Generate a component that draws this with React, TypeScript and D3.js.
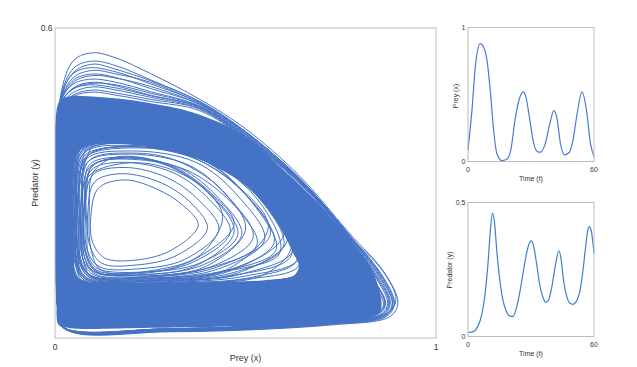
import { useEffect, useRef } from 'react'
import * as d3 from 'd3'

// Time series
const preyT = [0, 1.9, 3.5, 5.8, 7.4, 9, 10.6, 12.2, 13.7, 16.1, 18.5, 20.4, 22.4, 24.5, 26.4, 27.6, 29.2, 31.1, 33, 34.6, 36.6, 39, 40.9, 42.5, 44, 46.1, 48.2, 50, 52, 54.3, 56.4, 58.3, 60]
const preyX = [0.087, 0.385, 0.71, 0.88, 0.855, 0.76, 0.53, 0.235, 0.062, 0.007, 0.017, 0.087, 0.31, 0.47, 0.52, 0.48, 0.335, 0.149, 0.074, 0.07, 0.124, 0.285, 0.38, 0.31, 0.136, 0.05, 0.067, 0.16, 0.36, 0.52, 0.385, 0.136, 0.037]

const predT = [0, 2.5, 4.5, 6.5, 8, 9.5, 10.7, 11.7, 12.7, 13.7, 15, 16.5, 18.3, 20, 21.5, 23, 24.8, 26.5, 28, 29.3, 30.3, 31.3, 32.7, 34, 35.5, 37, 38.3, 39.8, 41.5, 43.3, 44.3, 45.5, 47, 48.5, 50, 51.5, 53, 54.5, 55.8, 57, 57.8, 58.8, 60]
const predY = [0.015, 0.018, 0.035, 0.08, 0.15, 0.27, 0.4, 0.46, 0.42, 0.32, 0.22, 0.14, 0.093, 0.076, 0.075, 0.105, 0.17, 0.25, 0.315, 0.35, 0.357, 0.335, 0.27, 0.2, 0.15, 0.128, 0.135, 0.18, 0.26, 0.32, 0.29, 0.21, 0.15, 0.125, 0.12, 0.13, 0.16, 0.23, 0.32, 0.395, 0.41, 0.39, 0.31]

// Phase plane: the densely overplotted band (outer edge, inner edge of the hole)
const denseOuter = [[0.004, 0.44], [0.004, 0.06], [0.01, 0.025], [0.04, 0.019], [0.2, 0.019], [0.5, 0.023], [0.72, 0.03], [0.82, 0.04], [0.852, 0.05], [0.857, 0.065], [0.852, 0.09], [0.83, 0.135], [0.79, 0.175], [0.748, 0.213], [0.70, 0.253], [0.64, 0.298], [0.58, 0.338], [0.525, 0.375], [0.46, 0.407], [0.394, 0.428], [0.33, 0.443], [0.262, 0.453], [0.17, 0.463], [0.087, 0.468], [0.04, 0.468], [0.014, 0.46]]
const denseInner = [[0.05, 0.33], [0.05, 0.16], [0.055, 0.122], [0.08, 0.11], [0.2, 0.107], [0.4, 0.108], [0.55, 0.112], [0.625, 0.12], [0.64, 0.138], [0.625, 0.165], [0.59, 0.215], [0.55, 0.258], [0.505, 0.292], [0.45, 0.32], [0.381, 0.345], [0.3, 0.362], [0.2, 0.374], [0.12, 0.376], [0.08, 0.37], [0.058, 0.355]]

// Individual cycles visible inside the hole
const holeLoops = [
  [[0.094, 0.235], [0.099, 0.185], [0.13, 0.155], [0.20, 0.150], [0.30, 0.168], [0.376, 0.218], [0.337, 0.256], [0.265, 0.289], [0.182, 0.306], [0.114, 0.29]],
  [[0.086, 0.24], [0.091, 0.18], [0.122, 0.145], [0.21, 0.141], [0.32, 0.16], [0.40, 0.212], [0.356, 0.262], [0.28, 0.30], [0.175, 0.318], [0.104, 0.302]],
  [[0.080, 0.23], [0.085, 0.17], [0.116, 0.138], [0.22, 0.134], [0.34, 0.152], [0.43, 0.21], [0.38, 0.265], [0.295, 0.31], [0.185, 0.330], [0.098, 0.315]],
  [[0.076, 0.25], [0.08, 0.165], [0.11, 0.131], [0.23, 0.127], [0.36, 0.146], [0.46, 0.205], [0.405, 0.268], [0.31, 0.32], [0.17, 0.340], [0.094, 0.324]],
  [[0.072, 0.235], [0.076, 0.16], [0.106, 0.127], [0.24, 0.123], [0.39, 0.142], [0.49, 0.2], [0.43, 0.27], [0.33, 0.328], [0.19, 0.348], [0.09, 0.33]],
  [[0.068, 0.26], [0.072, 0.155], [0.10, 0.123], [0.25, 0.119], [0.41, 0.138], [0.52, 0.195], [0.455, 0.272], [0.35, 0.335], [0.18, 0.356], [0.085, 0.34]],
  [[0.064, 0.24], [0.068, 0.152], [0.096, 0.12], [0.26, 0.116], [0.43, 0.134], [0.55, 0.19], [0.48, 0.275], [0.37, 0.34], [0.2, 0.362], [0.08, 0.345]],
  [[0.060, 0.27], [0.064, 0.148], [0.092, 0.117], [0.27, 0.113], [0.45, 0.13], [0.575, 0.185], [0.50, 0.278], [0.385, 0.347], [0.19, 0.37], [0.076, 0.352]],
  [[0.056, 0.25], [0.06, 0.145], [0.088, 0.114], [0.28, 0.111], [0.47, 0.127], [0.60, 0.178], [0.525, 0.28], [0.40, 0.354], [0.2, 0.377], [0.072, 0.36]],
  [[0.052, 0.26], [0.056, 0.142], [0.084, 0.112], [0.29, 0.109], [0.49, 0.124], [0.625, 0.17], [0.55, 0.282], [0.415, 0.36], [0.21, 0.383], [0.068, 0.366]],
  [[0.09, 0.25], [0.095, 0.17], [0.12, 0.132], [0.23, 0.125], [0.36, 0.15], [0.47, 0.22], [0.41, 0.28], [0.3, 0.335], [0.16, 0.35], [0.1, 0.32]],
  [[0.07, 0.2], [0.078, 0.145], [0.11, 0.126], [0.25, 0.13], [0.38, 0.16], [0.44, 0.235], [0.39, 0.29], [0.29, 0.33], [0.18, 0.338], [0.085, 0.31]],
  [[0.082, 0.28], [0.078, 0.17], [0.105, 0.13], [0.2, 0.12], [0.4, 0.135], [0.53, 0.18], [0.49, 0.24], [0.36, 0.32], [0.22, 0.345], [0.1, 0.335]],
  [[0.058, 0.22], [0.062, 0.15], [0.09, 0.119], [0.27, 0.115], [0.44, 0.128], [0.59, 0.165], [0.54, 0.26], [0.40, 0.345], [0.19, 0.373], [0.074, 0.356]],
  [[0.054, 0.27], [0.058, 0.146], [0.086, 0.116], [0.3, 0.112], [0.48, 0.126], [0.61, 0.19], [0.53, 0.29], [0.42, 0.35], [0.2, 0.38], [0.07, 0.362]],
  [[0.062, 0.29], [0.066, 0.15], [0.094, 0.121], [0.25, 0.118], [0.42, 0.136], [0.565, 0.2], [0.49, 0.285], [0.36, 0.35], [0.22, 0.368], [0.08, 0.35]],
  [[0.05, 0.24], [0.054, 0.14], [0.082, 0.11], [0.26, 0.107], [0.5, 0.12], [0.64, 0.155], [0.57, 0.27], [0.43, 0.358], [0.2, 0.388], [0.066, 0.37]],
  [[0.066, 0.2], [0.07, 0.14], [0.1, 0.118], [0.28, 0.112], [0.46, 0.13], [0.6, 0.2], [0.52, 0.285], [0.38, 0.352], [0.21, 0.372], [0.082, 0.35]],
  [[0.058, 0.3], [0.062, 0.16], [0.09, 0.122], [0.24, 0.116], [0.43, 0.128], [0.58, 0.17], [0.53, 0.25], [0.4, 0.34], [0.18, 0.378], [0.072, 0.365]],
  [[0.056, 0.23], [0.058, 0.135], [0.085, 0.108], [0.3, 0.106], [0.52, 0.118], [0.635, 0.15], [0.6, 0.225], [0.46, 0.33], [0.25, 0.38], [0.075, 0.375]],
  [[0.05, 0.3], [0.052, 0.13], [0.078, 0.106], [0.25, 0.104], [0.48, 0.112], [0.64, 0.14], [0.61, 0.2], [0.47, 0.325], [0.24, 0.385], [0.06, 0.378]],
  [[0.07, 0.28], [0.074, 0.15], [0.1, 0.116], [0.27, 0.114], [0.45, 0.132], [0.56, 0.215], [0.47, 0.3], [0.35, 0.352], [0.17, 0.37], [0.085, 0.352]],
  [[0.062, 0.21], [0.066, 0.13], [0.094, 0.11], [0.33, 0.108], [0.54, 0.12], [0.62, 0.175], [0.57, 0.25], [0.43, 0.34], [0.22, 0.376], [0.075, 0.358]],
  [[0.074, 0.23], [0.078, 0.155], [0.105, 0.124], [0.26, 0.12], [0.4, 0.14], [0.5, 0.21], [0.44, 0.285], [0.32, 0.343], [0.2, 0.358], [0.088, 0.342]],
  [[0.054, 0.33], [0.056, 0.15], [0.08, 0.114], [0.22, 0.11], [0.46, 0.12], [0.62, 0.16], [0.56, 0.265], [0.44, 0.345], [0.22, 0.386], [0.064, 0.38]],
  [[0.06, 0.25], [0.062, 0.12], [0.09, 0.104], [0.3, 0.1], [0.5, 0.106], [0.65, 0.13], [0.63, 0.185], [0.5, 0.3], [0.3, 0.37], [0.1, 0.385]],
  [[0.048, 0.2], [0.05, 0.12], [0.07, 0.103], [0.35, 0.101], [0.56, 0.11], [0.66, 0.13], [0.64, 0.175], [0.52, 0.29], [0.35, 0.36], [0.12, 0.39]],
  [[0.084, 0.21], [0.088, 0.16], [0.11, 0.135], [0.24, 0.128], [0.38, 0.145], [0.48, 0.2], [0.42, 0.27], [0.31, 0.33], [0.2, 0.35], [0.095, 0.33]],
  [[0.078, 0.27], [0.082, 0.165], [0.112, 0.128], [0.22, 0.122], [0.37, 0.14], [0.47, 0.205], [0.41, 0.275], [0.3, 0.332], [0.165, 0.35], [0.09, 0.335]],
]

// Largest cycles, outside the dense band
const outerLoops = [
  [[0.012, 0.30], [0.009, 0.09], [0.025, 0.019], [0.3, 0.012], [0.72, 0.025], [0.88, 0.042], [0.90, 0.068], [0.866, 0.125], [0.77, 0.205], [0.64, 0.315], [0.5, 0.405], [0.38, 0.462], [0.25, 0.512], [0.16, 0.542], [0.1, 0.552], [0.05, 0.538], [0.015, 0.47]],
  [[0.011, 0.28], [0.008, 0.085], [0.024, 0.02], [0.3, 0.013], [0.71, 0.026], [0.872, 0.043], [0.891, 0.068], [0.858, 0.122], [0.77, 0.202], [0.64, 0.311], [0.5, 0.399], [0.38, 0.457], [0.25, 0.5], [0.16, 0.527], [0.1, 0.536], [0.05, 0.523], [0.014, 0.462]],
  [[0.01, 0.31], [0.008, 0.08], [0.022, 0.02], [0.3, 0.014], [0.7, 0.027], [0.865, 0.044], [0.885, 0.067], [0.852, 0.12], [0.77, 0.2], [0.64, 0.309], [0.5, 0.397], [0.38, 0.455], [0.25, 0.492], [0.16, 0.515], [0.09, 0.523], [0.045, 0.51], [0.013, 0.458]],
  [[0.01, 0.29], [0.007, 0.08], [0.021, 0.021], [0.3, 0.015], [0.69, 0.028], [0.86, 0.045], [0.878, 0.068], [0.847, 0.118], [0.77, 0.198], [0.64, 0.307], [0.5, 0.395], [0.38, 0.452], [0.25, 0.483], [0.16, 0.504], [0.1, 0.511], [0.05, 0.5], [0.013, 0.455]],
  [[0.009, 0.3], [0.007, 0.075], [0.02, 0.021], [0.3, 0.016], [0.69, 0.029], [0.855, 0.046], [0.873, 0.067], [0.843, 0.116], [0.77, 0.196], [0.64, 0.305], [0.5, 0.392], [0.38, 0.449], [0.25, 0.477], [0.16, 0.495], [0.095, 0.501], [0.045, 0.49], [0.012, 0.45]],
  [[0.008, 0.32], [0.006, 0.07], [0.019, 0.022], [0.3, 0.017], [0.68, 0.03], [0.85, 0.047], [0.868, 0.066], [0.838, 0.113], [0.77, 0.194], [0.64, 0.304], [0.5, 0.389], [0.38, 0.446], [0.25, 0.469], [0.16, 0.484], [0.09, 0.49], [0.045, 0.481], [0.012, 0.447]],
  [[0.008, 0.29], [0.006, 0.07], [0.018, 0.022], [0.3, 0.018], [0.68, 0.031], [0.845, 0.048], [0.862, 0.066], [0.833, 0.11], [0.77, 0.192], [0.64, 0.302], [0.5, 0.386], [0.38, 0.443], [0.25, 0.462], [0.16, 0.474], [0.1, 0.48], [0.05, 0.471], [0.012, 0.444]],
  [[0.007, 0.3], [0.006, 0.07], [0.018, 0.023], [0.3, 0.018], [0.7, 0.03], [0.875, 0.05], [0.895, 0.075], [0.86, 0.13], [0.77, 0.199], [0.64, 0.306], [0.5, 0.39], [0.38, 0.447], [0.25, 0.47], [0.16, 0.488], [0.1, 0.495], [0.05, 0.485], [0.012, 0.448]],
  [[0.007, 0.3], [0.006, 0.07], [0.018, 0.022], [0.3, 0.018], [0.7, 0.03], [0.85, 0.048], [0.865, 0.068], [0.835, 0.112], [0.77, 0.19], [0.64, 0.3], [0.5, 0.385], [0.38, 0.44], [0.25, 0.458], [0.16, 0.47], [0.1, 0.476], [0.05, 0.468], [0.011, 0.44]],
  [[0.007, 0.3], [0.006, 0.07], [0.018, 0.022], [0.3, 0.018], [0.69, 0.031], [0.848, 0.048], [0.866, 0.067], [0.836, 0.113], [0.77, 0.193], [0.64, 0.303], [0.5, 0.388], [0.38, 0.444], [0.25, 0.466], [0.16, 0.48], [0.1, 0.486], [0.05, 0.476], [0.011, 0.445]],
  [[0.008, 0.3], [0.006, 0.07], [0.019, 0.021], [0.3, 0.016], [0.7, 0.029], [0.858, 0.046], [0.876, 0.069], [0.845, 0.117], [0.77, 0.197], [0.64, 0.306], [0.5, 0.391], [0.38, 0.448], [0.25, 0.474], [0.16, 0.49], [0.1, 0.493], [0.05, 0.483], [0.012, 0.449]],
  [[0.009, 0.3], [0.007, 0.075], [0.02, 0.02], [0.3, 0.015], [0.7, 0.028], [0.862, 0.045], [0.88, 0.068], [0.85, 0.119], [0.77, 0.199], [0.64, 0.308], [0.5, 0.394], [0.38, 0.452], [0.25, 0.487], [0.16, 0.503], [0.1, 0.508], [0.05, 0.496], [0.013, 0.452]],
  [[0.01, 0.3], [0.008, 0.08], [0.022, 0.02], [0.3, 0.014], [0.71, 0.027], [0.868, 0.044], [0.886, 0.068], [0.854, 0.121], [0.77, 0.2], [0.64, 0.31], [0.5, 0.398], [0.38, 0.454], [0.25, 0.495], [0.16, 0.511], [0.1, 0.518], [0.05, 0.505], [0.013, 0.456]],
  [[0.011, 0.3], [0.008, 0.085], [0.023, 0.02], [0.3, 0.013], [0.71, 0.026], [0.87, 0.043], [0.888, 0.069], [0.856, 0.122], [0.77, 0.201], [0.64, 0.31], [0.5, 0.4], [0.38, 0.458], [0.25, 0.498], [0.16, 0.52], [0.1, 0.53], [0.05, 0.515], [0.014, 0.46]],
]

const mainXTicks = [0, 1]
const mainYTicks = [0.6]
const timeTicks = [0, 60]
const preyTicks = [0, 1]
const predTicks = [0, 0.5]

const FONT = "'Liberation Sans', Arial, Helvetica, sans-serif"
const PHASE_COLOR = '#4472c4'
const FRAME = '#bcbcbc'
const TEXT = '#333'

export default function App() {
  const svgRef = useRef<SVGSVGElement>(null)

  useEffect(() => {
    if (!svgRef.current) return
    const svg = d3.select(svgRef.current)
    svg.selectAll('*').remove()

    const fmt = (v: number) => String(v)

    // ---- main phase plot
    const main = { left: 55, right: 436, top: 28, bottom: 338 }
    const x = d3.scaleLinear().domain([0, 1]).range([main.left, main.right])
    const y = d3.scaleLinear().domain([0, 0.6]).range([main.bottom, main.top])

    svg.append('clipPath').attr('id', 'mainclip')
      .append('rect')
      .attr('x', main.left).attr('y', main.top)
      .attr('width', main.right - main.left).attr('height', main.bottom - main.top)

    const loop = d3.line<number[]>()
      .x(d => x(d[0]))
      .y(d => y(d[1]))
      .curve(d3.curveCatmullRomClosed.alpha(0.5))

    const gm = svg.append('g').attr('clip-path', 'url(#mainclip)')

    gm.append('path')
      .attr('d', (loop(denseOuter) || '') + (loop(denseInner) || ''))
      .attr('fill', PHASE_COLOR)
      .attr('fill-rule', 'evenodd')

    gm.selectAll('path.cyc')
      .data([...holeLoops, ...outerLoops])
      .join('path')
      .attr('class', 'cyc')
      .attr('d', d => loop(d))
      .attr('fill', 'none')
      .attr('stroke', PHASE_COLOR)
      .attr('stroke-width', 1)

    svg.append('rect')
      .attr('x', main.left).attr('y', main.top)
      .attr('width', main.right - main.left).attr('height', main.bottom - main.top)
      .attr('fill', 'none').attr('stroke', FRAME).attr('stroke-width', 1)

    mainXTicks.forEach(t => {
      svg.append('text')
        .attr('x', x(t)).attr('y', main.bottom + 9).attr('dy', '0.35em')
        .attr('text-anchor', 'middle')
        .attr('font-size', 8.5).attr('font-family', FONT).attr('fill', TEXT)
        .text(fmt(t))
    })
    mainYTicks.forEach(t => {
      svg.append('text')
        .attr('x', main.left - 2.5).attr('y', y(t)).attr('dy', '0.35em')
        .attr('text-anchor', 'end')
        .attr('font-size', 8.5).attr('font-family', FONT).attr('fill', TEXT)
        .text(fmt(t))
    })
    svg.append('text')
      .attr('x', (main.left + main.right) / 2).attr('y', 357.5).attr('dy', '0.35em')
      .attr('text-anchor', 'middle')
      .attr('font-size', 9).attr('font-family', FONT).attr('fill', TEXT)
      .text('Prey (x)')
    svg.append('text')
      .attr('transform', `translate(35,${(main.top + main.bottom) / 2}) rotate(-90)`)
      .attr('dy', '0.35em')
      .attr('text-anchor', 'middle')
      .attr('font-size', 9).attr('font-family', FONT).attr('fill', TEXT)
      .text('Predator (y)')

    // ---- small time series panels
    const drawPanel = (
      box: { left: number; right: number; top: number; bottom: number },
      ts: number[], vs: number[], yMax: number, yTicks: number[],
      label: string, labelX: number, labelY: number, color: string
    ) => {
      const sx = d3.scaleLinear().domain([0, 60]).range([box.left, box.right])
      const sy = d3.scaleLinear().domain([0, yMax]).range([box.bottom, box.top])
      const line = d3.line<number>()
        .x((_, i) => sx(ts[i]))
        .y(d => sy(d))
        .curve(d3.curveMonotoneX)

      svg.append('path')
        .attr('d', line(vs))
        .attr('fill', 'none')
        .attr('stroke', color)
        .attr('stroke-width', 1.2)

      svg.append('rect')
        .attr('x', box.left).attr('y', box.top)
        .attr('width', box.right - box.left).attr('height', box.bottom - box.top)
        .attr('fill', 'none').attr('stroke', FRAME).attr('stroke-width', 1)

      timeTicks.forEach(t => {
        svg.append('text')
          .attr('x', sx(t)).attr('y', box.bottom + 8).attr('dy', '0.35em')
          .attr('text-anchor', 'middle')
          .attr('font-size', 7).attr('font-family', FONT).attr('fill', TEXT)
          .text(fmt(t))
      })
      yTicks.forEach(t => {
        svg.append('text')
          .attr('x', box.left - 2.5).attr('y', sy(t)).attr('dy', '0.35em')
          .attr('text-anchor', 'end')
          .attr('font-size', 7).attr('font-family', FONT).attr('fill', TEXT)
          .text(fmt(t))
      })
      svg.append('text')
        .attr('x', (box.left + box.right) / 2).attr('y', box.bottom + 17.5).attr('dy', '0.35em')
        .attr('text-anchor', 'middle')
        .attr('font-size', 7).attr('font-family', FONT).attr('fill', TEXT)
        .text('Time (t)')
      svg.append('text')
        .attr('transform', `translate(${labelX},${labelY}) rotate(-90)`)
        .attr('dy', '0.35em')
        .attr('text-anchor', 'middle')
        .attr('font-size', 7).attr('font-family', FONT).attr('fill', TEXT)
        .text(label)
    }

    drawPanel({ left: 468, right: 594, top: 27.5, bottom: 161.5 },
      preyT, preyX, 1, preyTicks, 'Prey (x)', 455.5, 96, '#4a7bd3')
    drawPanel({ left: 468, right: 594, top: 202.5, bottom: 336.5 },
      predT, predY, 0.5, predTicks, 'Predator (y)', 450, 270, '#3d7fcf')
  }, [])

  return (
    <svg
      ref={svgRef}
      width={637}
      height={367}
      style={{ position: 'absolute', left: 0, top: 0, background: '#fff' }}
    />
  )
}
